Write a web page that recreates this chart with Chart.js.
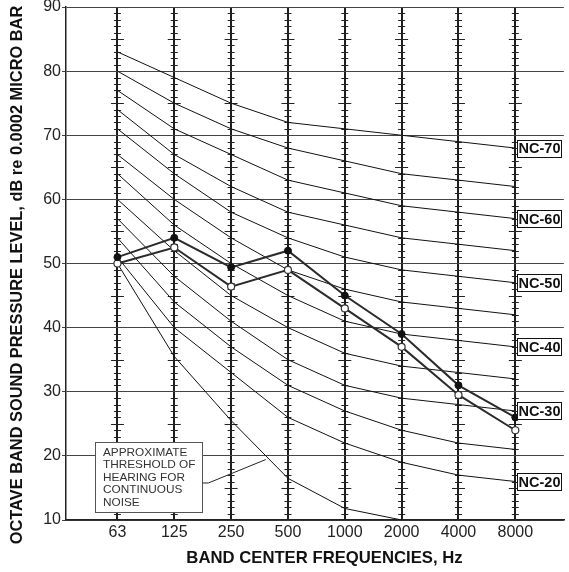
<!DOCTYPE html>
<html>
<head>
<meta charset="utf-8">
<title>NC curves</title>
<script src="https://cdn.jsdelivr.net/npm/chart.js@4.4.1/dist/chart.umd.min.js"></script>
<style>
  body { margin: 0; background: #fff; }
  canvas { display: block; }
</style>
</head>
<body>
<canvas id="ncChart" width="569" height="572"></canvas>
<script>
// octave band centres (x positions 0..7)
var bands = ['63', '125', '250', '500', '1000', '2000', '4000', '8000'];

// noise criteria curves, dB per band
var ncNames = ['NC-20', 'NC-25', 'NC-30', 'NC-35', 'NC-40', 'NC-45', 'NC-50', 'NC-55', 'NC-60', 'NC-65', 'NC-70'];
var nc20 = [51, 40, 33, 26, 22, 19, 17, 16];
var nc25 = [54, 44, 37, 31, 27, 24, 22, 21];
var nc30 = [57, 48, 41, 35, 31, 29, 28, 27];
var nc35 = [60, 52, 45, 40, 36, 34, 33, 32];
var nc40 = [64, 56, 50, 45, 41, 39, 38, 37];
var nc45 = [67, 60, 54, 49, 46, 44, 43, 42];
var nc50 = [71, 64, 58, 54, 51, 49, 48, 47];
var nc55 = [74, 67, 62, 58, 56, 54, 53, 52];
var nc60 = [77, 71, 67, 63, 61, 59, 58, 57];
var nc65 = [80, 75, 71, 68, 66, 64, 63, 62];
var nc70 = [83, 79, 75, 72, 71, 70, 69, 68];
var ncCurves = [nc20, nc25, nc30, nc35, nc40, nc45, nc50, nc55, nc60, nc65, nc70];

// approximate threshold of hearing (63 Hz .. 2000 Hz)
var threshold = [50, 35.5, 25.5, 16.5, 11.8, 10];

// two measured spectra
var measuredSolid = [51, 54, 49.4, 52, 45, 39, 31, 26];
var measuredOpen = [50, 52.5, 46.4, 49, 43, 37, 29.5, 24];

var yMin = 10;
var yMax = 90;
var yStep = 10;

var noteLines = ['APPROXIMATE', 'THRESHOLD OF', 'HEARING FOR', 'CONTINUOUS', 'NOISE'];
var xTitle = 'BAND CENTER FREQUENCIES, Hz';
var yTitle = 'OCTAVE BAND SOUND PRESSURE LEVEL, dB re 0.0002 MICRO BAR';

var FONT = 'Arial, "Liberation Sans", sans-serif';

function toPoints(arr) {
  return arr.map(function (v, i) { return { x: i, y: v }; });
}

var datasets = [];

// measured lines go first so they are painted on top
datasets.push({
  data: toPoints(measuredSolid),
  borderColor: '#2b2b2b',
  borderWidth: 2,
  pointRadius: 3.5,
  pointBackgroundColor: '#111',
  pointBorderColor: '#111',
  pointBorderWidth: 1
});
datasets.push({
  data: toPoints(measuredOpen),
  borderColor: '#2b2b2b',
  borderWidth: 2,
  pointRadius: 3.5,
  pointBackgroundColor: '#fff',
  pointBorderColor: '#333',
  pointBorderWidth: 1.2
});
datasets.push({
  data: toPoints(threshold),
  borderColor: '#111',
  borderWidth: 1,
  pointRadius: 0
});
ncCurves.forEach(function (curve) {
  datasets.push({
    data: toPoints(curve),
    borderColor: '#111',
    borderWidth: 1,
    pointRadius: 0
  });
});

// short ticks along every band line, longer at each 5 dB
var hatchPlugin = {
  id: 'hatch',
  beforeDatasetsDraw: function (chart) {
    var ctx = chart.ctx;
    var xs = chart.scales.x;
    var ys = chart.scales.y;
    ctx.save();
    ctx.strokeStyle = '#222';
    ctx.lineWidth = 1;
    ctx.beginPath();
    bands.forEach(function (b, i) {
      var px = xs.getPixelForValue(i);
      for (var v = yMin + 1; v < yMax; v++) {
        if (v % 10 === 0) continue;
        var py = Math.round(ys.getPixelForValue(v)) + 0.5;
        var half = (v % 5 === 0) ? 6.5 : 3.5;
        ctx.moveTo(px - half, py);
        ctx.lineTo(px + half, py);
      }
    });
    ctx.stroke();
    ctx.restore();
  }
};

// NC labels, note box and axis titles
var labelPlugin = {
  id: 'labels',
  afterDatasetsDraw: function (chart) {
    var ctx = chart.ctx;
    var xs = chart.scales.x;
    var ys = chart.scales.y;
    ctx.save();

    // boxed names at the 8000 Hz end of every 10 NC
    ctx.font = 'bold 14.5px ' + FONT;
    ctx.textAlign = 'center';
    ctx.textBaseline = 'middle';
    ncCurves.forEach(function (curve, k) {
      var n = parseInt(ncNames[k].split('-')[1], 10);
      if (n % 10 !== 0) return;
      var last = curve.length - 1;
      var x0 = Math.round(xs.getPixelForValue(last)) + 2.5;
      var yc = ys.getPixelForValue(curve[last]);
      var w = 44, h = 17;
      var y0 = Math.round(yc - h / 2) + 0.5;
      ctx.fillStyle = '#fff';
      ctx.fillRect(x0, y0, w, h);
      ctx.strokeStyle = '#111';
      ctx.lineWidth = 1;
      ctx.strokeRect(x0, y0, w, h);
      ctx.fillStyle = '#111';
      ctx.fillText(ncNames[k], x0 + w / 2, yc + 1);
    });

    // note box about the threshold curve
    var bx0 = Math.round(xs.getPixelForValue(-0.4)) + 0.5;
    var bx1 = Math.round(xs.getPixelForValue(1.48)) + 0.5;
    var by0 = Math.round(ys.getPixelForValue(22.1)) + 0.5;
    var by1 = Math.round(ys.getPixelForValue(11.25)) + 0.5;
    ctx.fillStyle = '#fff';
    ctx.fillRect(bx0, by0, bx1 - bx0, by1 - by0);
    ctx.strokeStyle = '#555';
    ctx.lineWidth = 1;
    ctx.strokeRect(bx0, by0, bx1 - bx0, by1 - by0);
    ctx.fillStyle = '#333';
    ctx.font = '11.8px ' + FONT;
    ctx.textAlign = 'left';
    ctx.textBaseline = 'middle';
    noteLines.forEach(function (t, i) {
      ctx.fillText(t, bx0 + 7.5, by0 + 10 + i * 12.5);
    });

    // leader from the box to the curve
    var ly = ys.getPixelForValue(15.77);
    ctx.strokeStyle = '#222';
    ctx.beginPath();
    ctx.moveTo(bx1, ly);
    ctx.lineTo(xs.getPixelForValue(1.6), ly);
    ctx.lineTo(xs.getPixelForValue(2.61), ys.getPixelForValue(19.43));
    ctx.stroke();

    ctx.restore();
  },
  afterDraw: function (chart) {
    var ctx = chart.ctx;
    ctx.save();
    ctx.fillStyle = '#111';
    ctx.textAlign = 'center';
    ctx.textBaseline = 'middle';
    ctx.font = 'bold 16.7px ' + FONT;
    ctx.fillText(xTitle, 324.5, 558);
    ctx.font = 'bold 16.4px ' + FONT;
    ctx.translate(17, 275);
    ctx.rotate(-Math.PI / 2);
    ctx.fillText(yTitle, 0, 0);
    ctx.restore();
  }
};

new Chart(document.getElementById('ncChart'), {
  type: 'line',
  data: { datasets: datasets },
  options: {
    responsive: false,
    animation: false,
    layout: { padding: { top: 7, right: 0, bottom: 0, left: 0 } },
    plugins: {
      legend: { display: false },
      tooltip: { enabled: false }
    },
    elements: { line: { tension: 0 } },
    scales: {
      x: {
        type: 'linear',
        min: -0.905,
        max: 7.853,
        afterBuildTicks: function (scale) {
          scale.ticks = bands.map(function (b, i) { return { value: i }; });
        },
        afterFit: function (scale) {
          scale.height = 52;
          scale.paddingLeft = 0;
          scale.paddingRight = 0;
        },
        ticks: {
          autoSkip: false,
          maxRotation: 0,
          padding: 3,
          color: '#222',
          font: { family: FONT, size: 16 },
          callback: function (value) { return bands[value]; }
        },
        grid: { color: '#1e1e1e', lineWidth: 2, drawTicks: false },
        border: { display: true, color: '#222', width: 1.5 }
      },
      y: {
        min: yMin,
        max: yMax,
        afterFit: function (scale) {
          scale.width = 66;
          scale.paddingTop = 0;
          scale.paddingBottom = 0;
        },
        ticks: {
          stepSize: yStep,
          padding: 1,
          color: '#222',
          font: { family: FONT, size: 16 }
        },
        grid: { color: '#444', lineWidth: 1, tickLength: 4 },
        border: { display: true, color: '#222', width: 1.5 }
      }
    }
  },
  plugins: [hatchPlugin, labelPlugin]
});
</script>
</body>
</html>
